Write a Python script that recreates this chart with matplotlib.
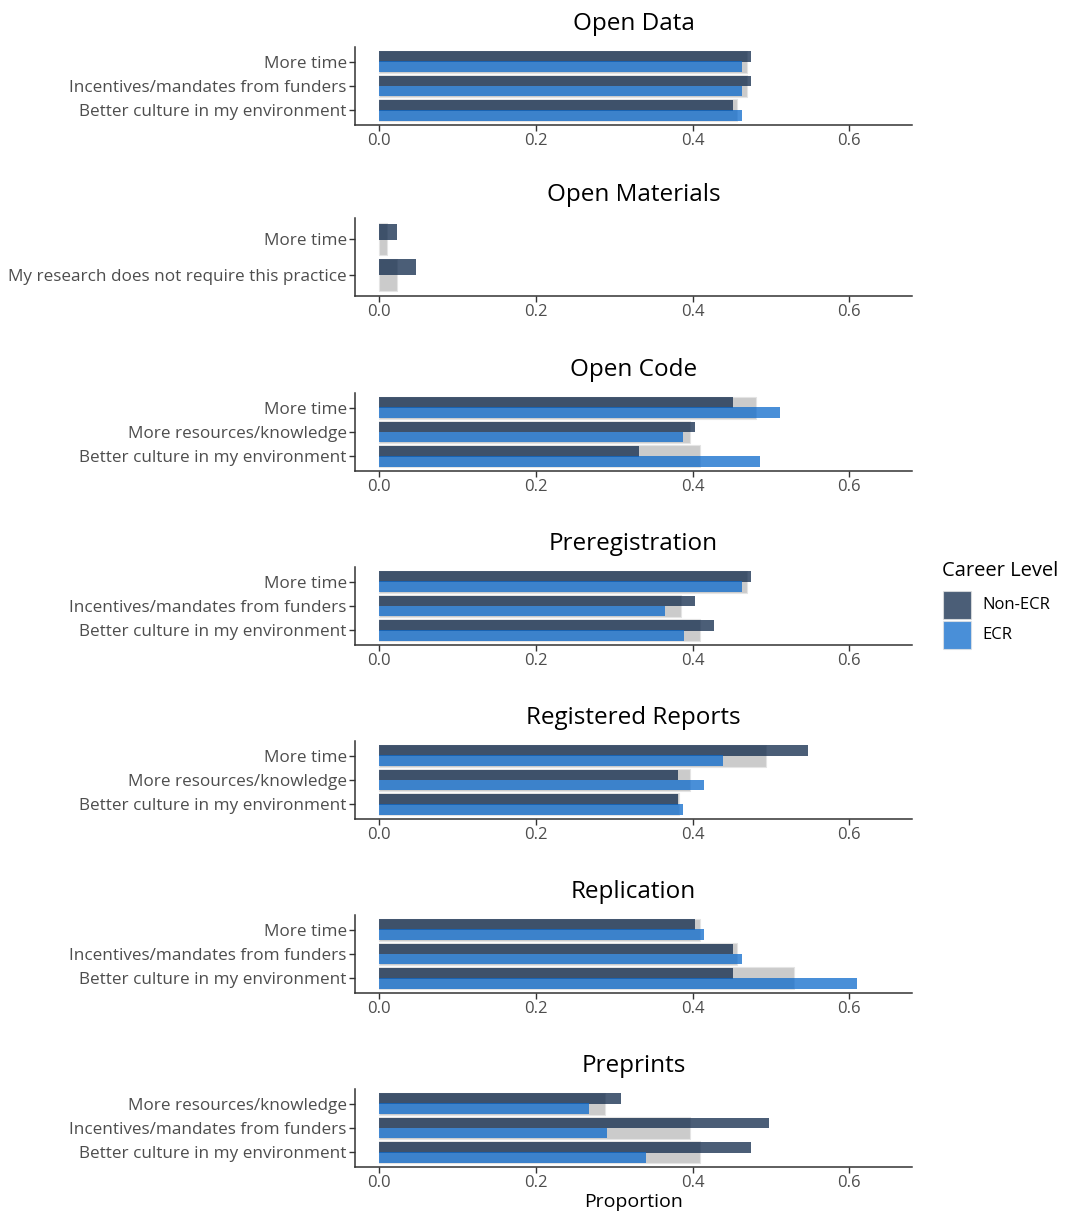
import matplotlib
matplotlib.use("Agg")
import matplotlib.pyplot as plt
from matplotlib.patches import Rectangle

plt.rcParams["font.family"] = ["Open Sans", "DejaVu Sans"]

# -------------------- data --------------------
panels = ["Open Data", "Open Materials", "Open Code", "Preregistration",
          "Registered Reports", "Replication", "Preprints"]

# categories listed top to bottom
categories = [
    ["More time", "Incentives/mandates from funders", "Better culture in my environment"],
    ["More time", "My research does not require this practice"],
    ["More time", "More resources/knowledge", "Better culture in my environment"],
    ["More time", "Incentives/mandates from funders", "Better culture in my environment"],
    ["More time", "More resources/knowledge", "Better culture in my environment"],
    ["More time", "Incentives/mandates from funders", "Better culture in my environment"],
    ["More resources/knowledge", "Incentives/mandates from funders", "Better culture in my environment"],
]

overall = [
    [0.469, 0.469, 0.457],
    [0.010, 0.023],
    [0.481, 0.397, 0.409],
    [0.469, 0.385, 0.409],
    [0.493, 0.397, 0.383],
    [0.409, 0.457, 0.529],
    [0.288, 0.397, 0.409],
]

non_ecr = [
    [0.475, 0.475, 0.451],
    [0.023, 0.047],
    [0.451, 0.403, 0.332],
    [0.475, 0.403, 0.427],
    [0.547, 0.381, 0.381],
    [0.403, 0.451, 0.451],
    [0.308, 0.498, 0.475],
]

ecr = [
    [0.463, 0.463, 0.463],
    [0.0, 0.0],
    [0.511, 0.388, 0.486],
    [0.463, 0.365, 0.389],
    [0.439, 0.414, 0.388],
    [0.414, 0.463, 0.610],
    [0.268, 0.291, 0.340],
]

career_levels = ["Non-ECR", "ECR"]
x_ticks = [0.0, 0.2, 0.4, 0.6]
x_tick_labels = ["0.0", "0.2", "0.4", "0.6"]

# -------------------- style --------------------
W, H = 1065, 1212
GREY = "#cbcbcb"
DARK = "#0f284a"
BLUE = "#0c6acc"
ALPHA = 0.75
TEXT = "#4d4d4d"

ax_left, ax_right = 355, 912
ax_tops = [47, 218, 393, 567, 741, 915, 1089]
ax_h = 78

fig = plt.figure(figsize=(W / 100, H / 100), dpi=100)

for i, name in enumerate(panels):
    top = ax_tops[i]
    ax = fig.add_axes([ax_left / W, 1 - (top + ax_h) / H,
                       (ax_right - ax_left) / W, ax_h / H])
    cats = categories[i]
    n = len(cats)
    ys = [n - k for k in range(n)]  # first category at top

    ax.barh(ys, overall[i], height=0.9, color=GREY, edgecolor="#e4e4e4",
            linewidth=0.8, zorder=1)
    ax.barh([y + 0.2075 for y in ys], non_ecr[i], height=0.445, color=DARK,
            alpha=ALPHA, linewidth=0, zorder=2)
    ax.barh([y - 0.2075 for y in ys], ecr[i], height=0.445, color=BLUE,
            alpha=ALPHA, linewidth=0, zorder=3)

    ax.set_xlim(-0.031, 0.68)
    ax.set_ylim(0.4, n + 0.6)
    ax.set_yticks(ys)
    ax.set_yticklabels(cats, fontsize=12.3, color=TEXT)
    ax.set_xticks(x_ticks)
    ax.set_xticklabels(x_tick_labels, fontsize=12, color=TEXT)
    ax.tick_params(axis="both", length=4, width=1, color="#333333", pad=2)

    for s in ["top", "right"]:
        ax.spines[s].set_visible(False)
    for s in ["left", "bottom"]:
        ax.spines[s].set_color("#333333")
        ax.spines[s].set_linewidth(1.1)

    ax.set_title(name, fontsize=17.5, color="black", pad=12)

    if i == len(panels) - 1:
        ax.set_xlabel("Proportion", fontsize=14, color="black", labelpad=1)

# legend, drawn by hand so the keys can be square and large
fig.text(942 / W, 1 - 571 / H, "Career Level", fontsize=14.5,
         color="black", ha="left", va="center")
for k, (lab, col) in enumerate(zip(career_levels, [DARK, BLUE])):
    top = 591 + k * 30
    fig.patches.append(Rectangle((943 / W, 1 - (top + 28) / H), 28 / W, 28 / H,
                                 transform=fig.transFigure, facecolor=col,
                                 alpha=ALPHA, edgecolor="#e4e4e4", linewidth=0.8))
    fig.text(982 / W, 1 - (top + 14) / H, lab, fontsize=12, color="black",
             ha="left", va="center")

fig.savefig("out.png", dpi=100)
